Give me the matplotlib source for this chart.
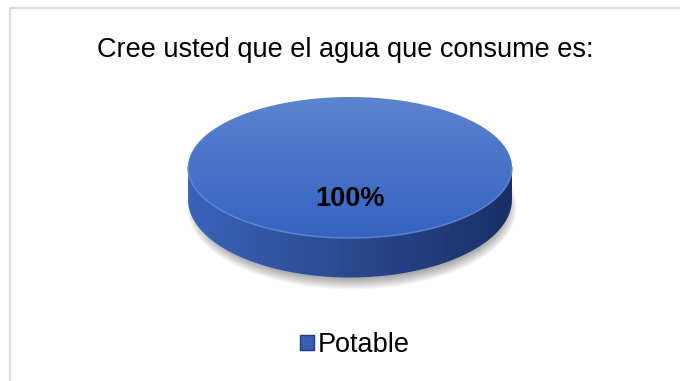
import matplotlib.pyplot as plt
import numpy as np
from matplotlib.path import Path
from matplotlib.patches import PathPatch, Patch, Ellipse
from matplotlib.colors import to_rgb

plt.rcParams['font.family'] = ['Liberation Sans', 'DejaVu Sans']

title = "Cree usted que el agua que consume es:"
labels = ['Potable']
values = [100]

fig = plt.figure(figsize=(6.8, 3.81), dpi=100)
ax = fig.add_axes([0, 0, 1, 1])
ax.set_xlim(0, 680)
ax.set_ylim(381, 0)
ax.axis('off')

# chart frame (only top and left visible)
ax.plot([9.5, 9.5, 680], [381, 7.5, 7.5], color='#d9d9d9', lw=1.5)

ax.text(345, 50, title, ha='center', va='center', fontsize=19.5, color='black')

# pie geometry (pixel coords)
cx, cy = 350, 167.5
rx, ry = 162, 70.5
d, ryb = 32, 78


def grad(path, c1, c2, ext, horizontal=False, z=2):
    g = np.linspace(0, 1, 256)
    c1 = np.array(to_rgb(c1))
    c2 = np.array(to_rgb(c2))
    cols = c1[None, :] * (1 - g[:, None]) + c2[None, :] * g[:, None]
    img = cols[None, :, :] if horizontal else cols[:, None, :]
    patch = PathPatch(path, facecolor='none', edgecolor='none', zorder=z)
    ax.add_patch(patch)
    im = ax.imshow(img, extent=ext, aspect='auto', origin='lower',
                   interpolation='bilinear', zorder=z)
    im.set_clip_path(patch)


# shadow
for k in range(12):
    e = Ellipse((cx + 2, cy + d + 8), 2 * rx + 6 - k * 2, 2 * ryb + 8 - k * 2,
                facecolor='#000000', alpha=0.03, edgecolor='none', zorder=1)
    ax.add_patch(e)

total = sum(values)
start = 0.0
for v, lab in zip(values, labels):
    frac = v / total
    t = np.linspace(start * 2 * np.pi, (start + frac) * 2 * np.pi, 400)
    # side (front half)
    ts = np.linspace(0, np.pi, 300)
    xs_top = cx + rx * np.cos(ts)
    ys_top = cy + ry * np.sin(ts)
    xs_bot = cx + rx * np.cos(ts[::-1])
    ys_bot = cy + d + ryb * np.sin(ts[::-1])
    side = Path(np.column_stack([np.r_[xs_top, xs_bot], np.r_[ys_top, ys_bot]]))
    grad(side, '#3a63b8', '#1a2f66', (cx - rx, cx + rx, 300, 150), horizontal=True, z=2)
    # top face
    xt = cx + rx * np.cos(t)
    yt = cy + ry * np.sin(t)
    if frac < 1:
        xt = np.r_[cx, xt]
        yt = np.r_[cy, yt]
    top = Path(np.column_stack([xt, yt]))
    grad(top, '#3563bf', '#5b84d0', (cx - rx, cx + rx, cy + ry, cy - ry), z=3)
    # rim highlight
    ax.plot(xs_top, ys_top, color='#5f88d6', lw=1.2, alpha=0.8, zorder=4)
    ax.text(cx, cy + 31, f"{v / total:.0%}", ha='center', va='center',
            fontsize=19.5, fontweight='bold', color='black', zorder=5)
    start += frac

handles = [Patch(facecolor='#3760b5', edgecolor='#1e3d80') for _ in labels]
ax.legend(handles, labels, loc='center', bbox_to_anchor=(355 / 680, 1 - 345 / 381),
          frameon=False, fontsize=19.5, handlelength=0.5, handleheight=0.5,
          handletextpad=0.15, borderpad=0)

fig.savefig('out.png', dpi=100)
